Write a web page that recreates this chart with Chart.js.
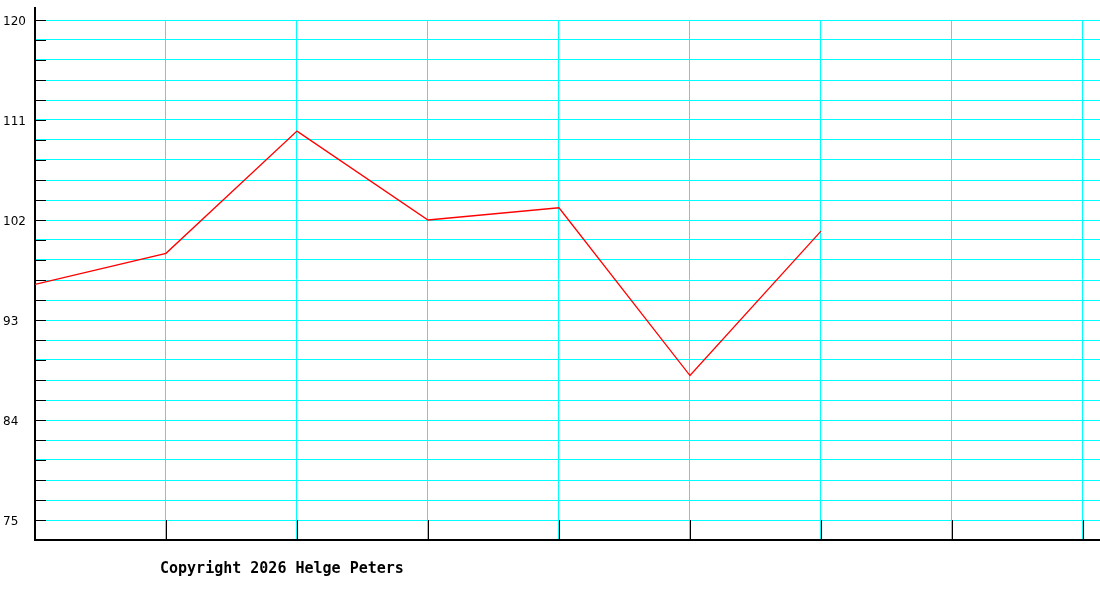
<!DOCTYPE html>
<html>
<head>
<meta charset="utf-8">
<title>Chart</title>
<script src="https://cdn.jsdelivr.net/npm/chart.js@4/dist/chart.umd.min.js"></script>
<style>
  html, body { margin: 0; padding: 0; background: #fff; overflow: hidden; }
  #wrap { position: relative; width: 1100px; height: 600px; overflow: hidden; }
  #my-chart { display: block; }
  #copy {
    position: absolute; left: 160px; top: 560px;
    font: bold 15px "DejaVu Sans Mono", monospace; line-height: 16px; color: #000;
  }
</style>
</head>
<body>
<div id="wrap">
  <canvas id="my-chart" width="1100" height="600"></canvas>
  <div id="copy">Copyright 2026 Helge Peters</div>
</div>
<script>
// data
const positions = [0, 1, 2, 3, 4, 5, 6];
const values = [96.2, 99.0, 110.0, 102.0, 103.1, 88.0, 101.0];
const yLabels = [75, 84, 93, 102, 111, 120];
const xSlots = [0, 1, 2, 3, 4, 5, 6, 7, 8];
const yMinor = 1.8;

// grid values every 1.8 from 75 to 120
const yGrid = [];
for (let v = yLabels[0]; v <= yLabels[yLabels.length - 1] + 0.01; v += yMinor) yGrid.push(+v.toFixed(2));

// black tick marks inside the axes + axis top stub
const axisMarks = {
  id: "axisMarks",
  beforeDatasetsDraw(chart) {
    const { ctx, chartArea, scales } = chart;
    const x = scales.x, y = scales.y;
    ctx.save();
    ctx.strokeStyle = "#000";
    ctx.lineWidth = 1;
    ctx.beginPath();
    y.ticks.forEach(t => {
      const py = Math.round(y.getPixelForValue(t.value)) + 0.5;
      ctx.moveTo(chartArea.left, py);
      ctx.lineTo(chartArea.left + 11, py);
    });
    const yLow = Math.round(y.getPixelForValue(yLabels[0]));
    x.ticks.forEach(t => {
      const px = Math.round(x.getPixelForValue(t.value)) + 0.5;
      ctx.moveTo(px, yLow);
      ctx.lineTo(px, chartArea.bottom);
    });
    ctx.stroke();
    ctx.lineWidth = 2;
    ctx.beginPath();
    ctx.moveTo(Math.round(chartArea.left), chartArea.top - 13);
    ctx.lineTo(Math.round(chartArea.left), chartArea.top + 1);
    ctx.stroke();
    ctx.restore();
  }
};

const ctx = document.getElementById("my-chart").getContext("2d");
const chart = new Chart(ctx, {
  type: "line",
  data: {
    datasets: [
      {
        data: positions.map((p, i) => ({ x: p, y: values[i] })),
        borderColor: "#ff0000",
        borderWidth: 1.3,
        pointRadius: 0,
        tension: 0,
        fill: false
      }
    ]
  },
  options: {
    responsive: false,
    animation: false,
    layout: { padding: { left: 3, top: 20, right: 0, bottom: 60 } },
    plugins: { legend: { display: false }, tooltip: { enabled: false } },
    scales: {
      x: {
        type: "linear",
        min: 0,
        max: 8.13,
        afterBuildTicks: s => { s.ticks = xSlots.map(v => ({ value: v })); },
        afterFit: s => { s.height = 0; },
        ticks: { display: false },
        grid: { color: "#00ffff", lineWidth: 1, drawTicks: false },
        border: { color: "#000", width: 2 }
      },
      y: {
        type: "linear",
        min: 73.2,
        max: 120,
        afterBuildTicks: s => { s.ticks = yGrid.map(v => ({ value: v })); },
        afterFit: s => { s.width = 32; },
        ticks: {
          crossAlign: "far",
          labelOffset: 2,
          color: "#000",
          font: { family: "DejaVu Sans", size: 12 },
          callback: v => (yLabels.some(l => Math.abs(l - v) < 0.01) ? String(Math.round(v)) : "")
        },
        grid: { color: "#00ffff", lineWidth: 1, drawTicks: false },
        border: { color: "#000", width: 2 }
      }
    }
  },
  plugins: [axisMarks]
});
</script>
</body>
</html>
